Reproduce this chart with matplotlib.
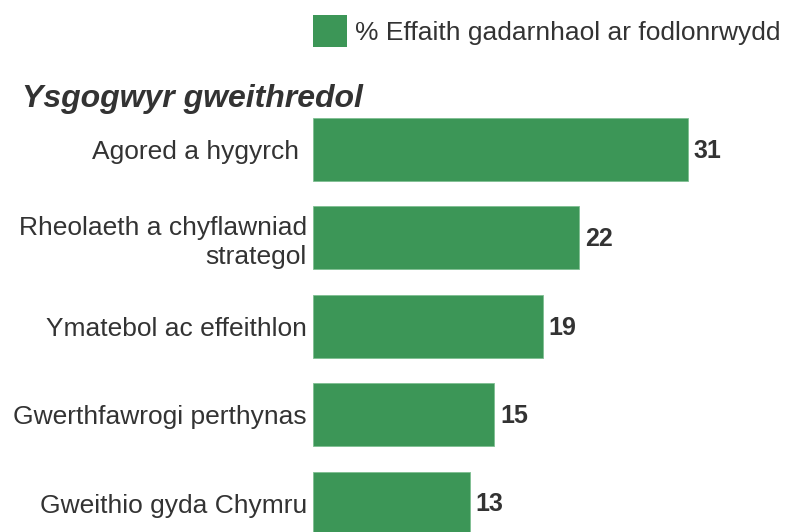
import matplotlib
matplotlib.use("Agg")
from matplotlib import pyplot as plt
from matplotlib.patches import Patch

plt.rcParams['font.family'] = ['Liberation Sans', 'DejaVu Sans']

categories = ['Agored a hygyrch ', 'Rheolaeth a chyflawniad\nstrategol',
              'Ymatebol ac effeithlon', 'Gwerthfawrogi perthynas',
              'Gweithio gyda Chymru']
values = [31, 22, 19, 15, 13]
section_title = 'Ysgogwyr gweithredol'
legend_label = '% Effaith gadarnhaol ar fodlonrwydd'

bar_color = '#3c9657'
text_color = '#333333'

W, H = 787, 532
fig = plt.figure(figsize=(W / 100, H / 100), dpi=100)

# axes spans from the bar baseline to the right edge, full height
ax = fig.add_axes([313 / W, 0, 474 / W, 1])
positions = list(range(len(categories)))
ax.barh(positions, values, height=0.713, color=bar_color,
        edgecolor='#7fbf92', linewidth=0.6)

ax.set_xlim(0, 474 / 12.097)
ax.set_ylim(4.328, -1.692)

ax.set_yticks(positions, categories)
ax.tick_params(axis='y', length=0, pad=4.5, labelsize=19, labelcolor=text_color)
for lbl in ax.get_yticklabels():
    lbl.set_linespacing(1.25)
ax.set_xticks([])
for s in ax.spines.values():
    s.set_visible(False)

for p, v in zip(positions, values):
    ax.annotate(str(v), (v, p), xytext=(4, -1), textcoords='offset points',
                ha='left', va='center', fontsize=18, fontweight='bold',
                color=text_color)

fig.text(22 / W, 1 - 99 / H, section_title, fontsize=23, fontweight='bold',
         fontstyle='italic', color=text_color, ha='left', va='center')

handle = Patch(facecolor=bar_color, edgecolor='none')
fig.legend([handle], [legend_label], loc='upper left',
           bbox_to_anchor=(313 / W, 1 - 15 / H), frameon=False, fontsize=19,
           handlelength=1.29, handleheight=1.5, handletextpad=0.3,
           borderpad=0, borderaxespad=0, labelcolor=text_color)

fig.savefig('out.png', dpi=100)
